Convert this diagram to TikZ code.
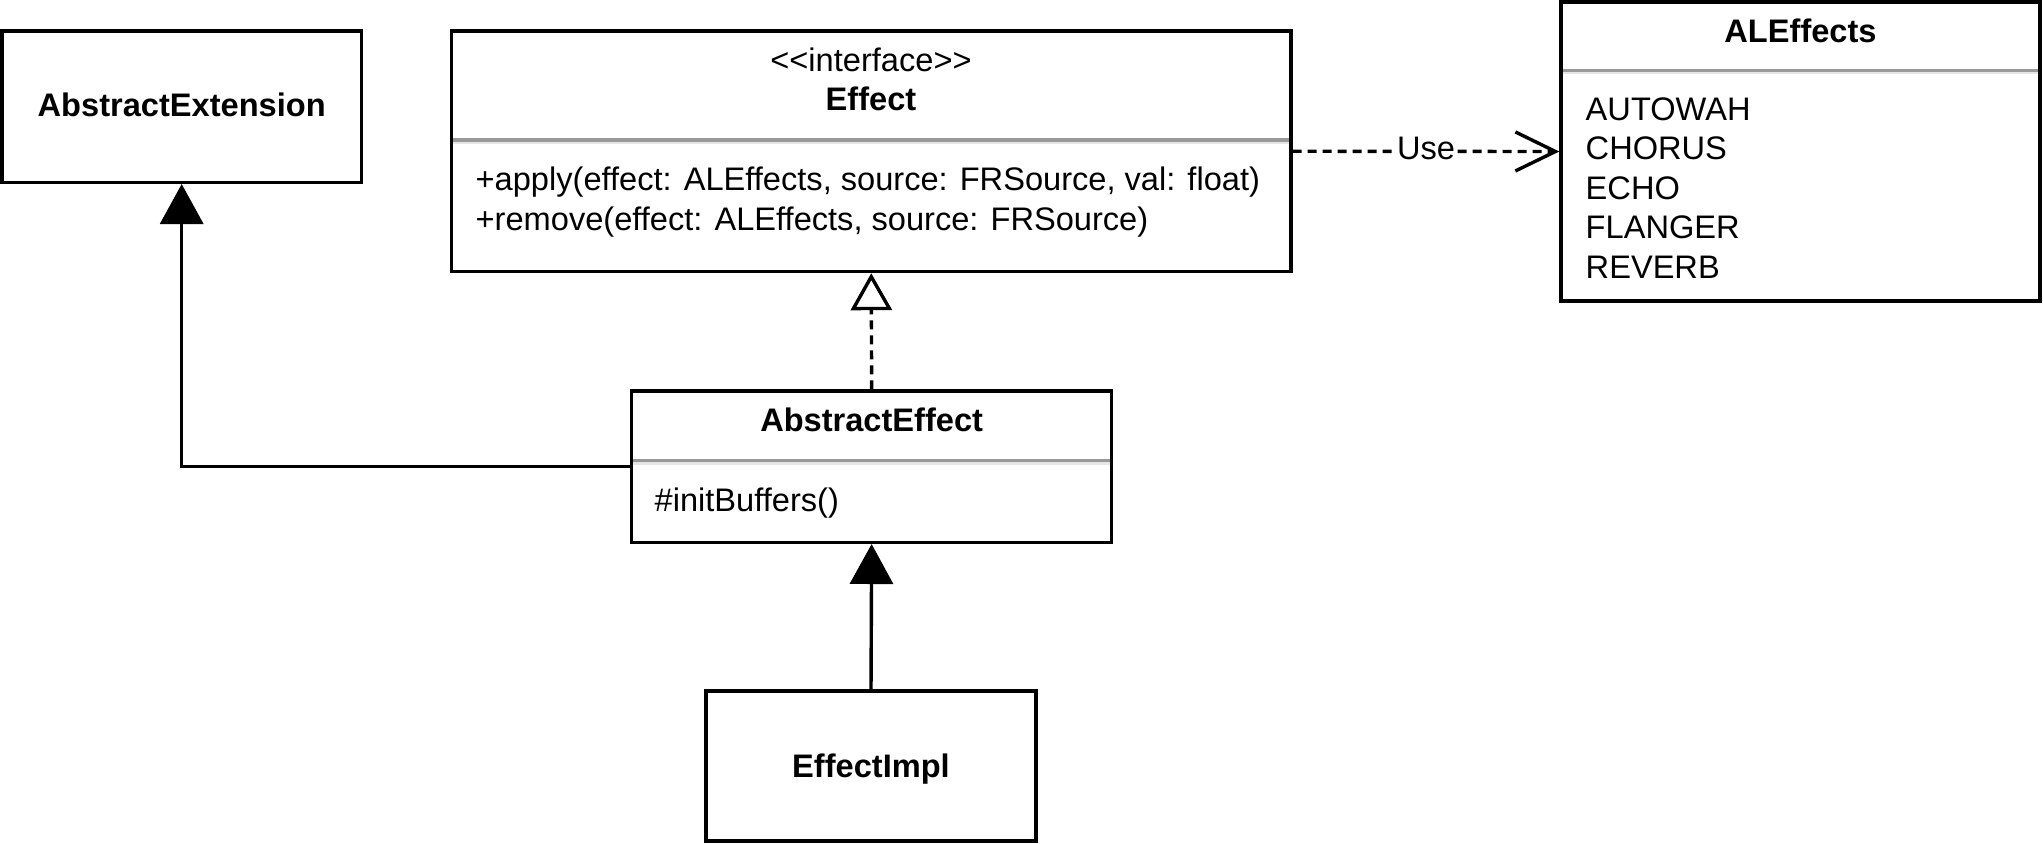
\documentclass[tikz,border=0pt]{standalone}
\usepackage{fontspec}
\newfontfamily\umlfont{Liberation Sans}
\usetikzlibrary{arrows.meta}
\definecolor{sepgray}{HTML}{999999}
\definecolor{seplight}{HTML}{E6E6E6}
\begin{document}
\begin{tikzpicture}[x=0.5pt,y=-0.5pt, line width=1.7pt,
  box/.style={draw, rectangle, inner sep=0pt, line width=1.7pt},
  txt/.style={inner sep=0pt, font=\umlfont\fontsize{16.3}{19.5}\selectfont},
  btxt/.style={inner sep=0pt, font=\umlfont\fontsize{16.3}{19.5}\selectfont\bfseries},
  dsh/.style={dash pattern=on 4.5pt off 3pt},
  sepg/.style={sepgray, line width=1.6pt},
  sepl/.style={seplight, line width=1.25pt},
  solidtip/.style={-{Triangle[length=20pt,width=21.5pt]}},
  opentip/.style={-{Triangle[open,fill=white,length=18.5pt,width=20.5pt]}},
  usetip/.style={-{Straight Barb[length=20pt,width=19.5pt]}}
]
\useasboundingbox (0,0) rectangle (2043,843);

% boxes
\node[box, minimum width=179.9pt, minimum height=75.65pt] (ext) at (181.7,106.65) {};
\node[box, minimum width=419.75pt, minimum height=120.25pt] (eff) at (871.25,151.25) {};
\node[box, minimum width=239.5pt, minimum height=149.5pt] (ale) at (1800.5,151.5) {};
\node[box, minimum width=240pt, minimum height=75.65pt] (ae) at (871.65,466.65) {};
\node[box, minimum width=165pt, minimum height=75pt] (impl) at (871,766) {};

% separators
\draw[sepg] (453.2,140) -- (1289.3,140);
\draw[sepl] (453.2,143) -- (1289.3,143);
\draw[sepg] (633.4,460.7) -- (1109.9,460.7);
\draw[sepl] (633.4,463.4) -- (1109.9,463.4);
\draw[sepg] (1562.7,70.5) -- (2038.3,70.5);
\draw[sepl] (1562.7,73.2) -- (2038.3,73.2);

% texts
\node[btxt, anchor=base] (extT) at (181.7,116.7) {AbstractExtension};
\node[txt, anchor=base] (effS) at (871,71.7) {<<interface>>};
\node[btxt, anchor=base] (effT) at (871,110) {Effect};
\node[txt, anchor=base west] (effA) at (474,190) {+apply(effect: ALEffects, source: FRSource, val: float)};
\node[txt, anchor=base west] (effR) at (474,230.5) {+remove(effect: ALEffects, source: FRSource)};
\node[btxt, anchor=base] (aleT) at (1800.5,42) {ALEffects};
\node[txt, anchor=base west] (ale1) at (1584,120) {AUTOWAH};
\node[txt, anchor=base west] (ale2) at (1584,159.6) {CHORUS};
\node[txt, anchor=base west] (ale3) at (1584,199.2) {ECHO};
\node[txt, anchor=base west] (ale4) at (1584,238.7) {FLANGER};
\node[txt, anchor=base west] (ale5) at (1584,278.3) {REVERB};
\node[btxt, anchor=base] (aeT) at (871.65,431.5) {AbstractEffect};
\node[txt, anchor=base west] (aeM) at (653,511) {\#initBuffers()};
\node[btxt, anchor=base] (implT) at (871,777) {EffectImpl};

% connectors
\draw[solidtip] (ae.west) -| (ext.south);
\draw[solidtip] (impl.north) -- (ae.south);
\draw[dsh, opentip] (ae.north) -- (eff.south);
\draw[dsh, usetip] (eff.east) -- node[txt, fill=white, inner sep=1pt, yshift=1.5pt] (useL) {Use} (ale.west);
\end{tikzpicture}
\end{document}
